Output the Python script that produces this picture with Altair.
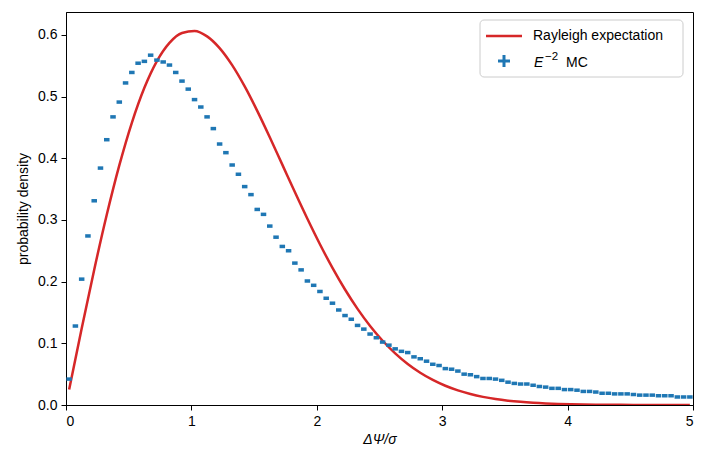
import altair as alt
import pandas as pd

# ---- data ----
bin_half_width = 0.022
bin_centers = [round(0.025 + 0.05 * i, 3) for i in range(100)]
mc_density = [
    0.042, 0.128, 0.204, 0.274, 0.331, 0.384, 0.430, 0.467, 0.491, 0.522,
    0.539, 0.554, 0.557, 0.567, 0.559, 0.556, 0.551, 0.539, 0.525, 0.512,
    0.495, 0.483, 0.467, 0.448, 0.423, 0.409, 0.389, 0.374, 0.354, 0.341,
    0.317, 0.309, 0.290, 0.272, 0.257, 0.250, 0.230, 0.219, 0.201, 0.194,
    0.184, 0.173, 0.165, 0.154, 0.145, 0.139, 0.129, 0.123, 0.115, 0.109,
    0.102, 0.097, 0.091, 0.087, 0.085, 0.078, 0.075, 0.071, 0.066, 0.064,
    0.059, 0.058, 0.055, 0.050, 0.049, 0.046, 0.043, 0.043, 0.042, 0.040,
    0.037, 0.035, 0.034, 0.034, 0.032, 0.030, 0.029, 0.027, 0.027, 0.025,
    0.025, 0.024, 0.022, 0.022, 0.021, 0.019, 0.019, 0.018, 0.018, 0.018,
    0.017, 0.016, 0.016, 0.016, 0.015, 0.015, 0.015, 0.013, 0.013, 0.013,
]

curve_x = [0.025, 0.125, 0.225, 0.325, 0.425, 0.525, 0.625, 0.725, 0.825, 0.925,
           1.025, 1.125, 1.225, 1.325, 1.425, 1.525, 1.625, 1.725, 1.825, 1.925,
           2.025, 2.125, 2.225, 2.325, 2.425, 2.525, 2.625, 2.725, 2.825, 2.925,
           3.025, 3.125, 3.225, 3.325, 3.425, 3.525, 3.625, 3.725, 3.825, 3.925,
           4.025, 4.125, 4.225, 4.325, 4.425, 4.525, 4.625, 4.725, 4.825, 4.925, 4.975]
curve_y = [0.02499, 0.12403, 0.21938, 0.30828, 0.38830, 0.45741, 0.51411, 0.55745, 0.58704, 0.60306,
           0.60619, 0.59749, 0.57847, 0.55082, 0.51629, 0.47672, 0.43396, 0.38963, 0.34518, 0.30186,
           0.26058, 0.22223, 0.18717, 0.15580, 0.12816, 0.10418, 0.08374, 0.06652, 0.05226, 0.04057,
           0.03116, 0.02366, 0.01777, 0.01320, 0.00971, 0.00706, 0.00508, 0.00361, 0.00254, 0.00177,
           0.00122, 0.00083, 0.00056, 0.00037, 0.00025, 0.00016, 0.00010, 0.00007, 0.00004, 0.00003, 0.00002]

x_ticks = [0, 1, 2, 3, 4, 5]
y_ticks = [0.0, 0.1, 0.2, 0.3, 0.4, 0.5, 0.6]

mc = pd.DataFrame({"center": bin_centers, "density": mc_density})
mc["lo"] = mc["center"] - bin_half_width
mc["hi"] = mc["center"] + bin_half_width
curve = pd.DataFrame({"x": curve_x, "y": curve_y})

FONT = "Liberation Sans"
RED = "#d62728"
BLUE = "#1f77b4"

x_scale = alt.Scale(domain=[0, 5], nice=False, zero=False)
y_scale = alt.Scale(domain=[0, 0.637], nice=False)

x_axis = alt.Axis(values=x_ticks, format="d", title="ΔΨ/σ", titleFontStyle="italic",
                  titleFontWeight="normal", titleFontSize=14, labelFontSize=14,
                  titlePadding=4, labelPadding=4, tickSize=5, grid=False,
                  domainColor="black", tickColor="black", labelColor="black", titleColor="black")
y_axis = alt.Axis(values=y_ticks, format=".1f", title="probability density",
                  titleFontWeight="normal", titleFontSize=14, labelFontSize=14,
                  titlePadding=7, labelPadding=4, tickSize=5, grid=False,
                  domainColor="black", tickColor="black", labelColor="black", titleColor="black")

curve_chart = alt.Chart(curve).mark_line(color=RED, strokeWidth=2.5, clip=True,
                                         interpolate="monotone").encode(
    x=alt.X("x:Q", scale=x_scale, axis=x_axis),
    y=alt.Y("y:Q", scale=y_scale, axis=y_axis),
)

mc_chart = alt.Chart(mc).mark_rule(color=BLUE, strokeWidth=3.5, clip=True).encode(
    x=alt.X("lo:Q", scale=x_scale),
    x2="hi:Q",
    y=alt.Y("density:Q", scale=y_scale),
)

one = pd.DataFrame({"k": [0]})
leg_box = alt.Chart(one).mark_rect(fill="white", fillOpacity=0.8, stroke="#cccccc",
                                   strokeWidth=1, cornerRadius=4).encode(
    x=alt.value(414), x2=alt.value(617), y=alt.value(8), y2=alt.value(65))
leg_line = alt.Chart(one).mark_rule(color=RED, strokeWidth=2.5).encode(
    x=alt.value(420), x2=alt.value(456), y=alt.value(24))
leg_text1 = alt.Chart(one).mark_text(align="left", baseline="middle", fontSize=14,
                                     font=FONT, color="black").encode(
    x=alt.value(467), y=alt.value(24), text=alt.value("Rayleigh expectation"))
leg_plus_h = alt.Chart(one).mark_rule(color=BLUE, strokeWidth=3).encode(
    x=alt.value(432), x2=alt.value(444), y=alt.value(49))
leg_plus_v = alt.Chart(one).mark_rule(color=BLUE, strokeWidth=3).encode(
    x=alt.value(438), y=alt.value(43), y2=alt.value(55))
leg_E = alt.Chart(one).mark_text(align="left", baseline="alphabetic", fontSize=14,
                                 font=FONT, fontStyle="italic", color="black").encode(
    x=alt.value(468), y=alt.value(55), text=alt.value("E"))
leg_sup = alt.Chart(one).mark_text(align="left", baseline="alphabetic", fontSize=11.5,
                                   font=FONT, color="black").encode(
    x=alt.value(479), y=alt.value(48), text=alt.value("−2"))
leg_MC = alt.Chart(one).mark_text(align="left", baseline="alphabetic", fontSize=14,
                                  font=FONT, color="black").encode(
    x=alt.value(500), y=alt.value(55), text=alt.value("MC"))

chart = alt.layer(
    curve_chart, mc_chart, leg_box, leg_line, leg_text1, leg_plus_h, leg_plus_v,
    leg_E, leg_sup, leg_MC
).properties(
    width=627, height=393,
    autosize=alt.AutoSizeParams(type="none"),
    padding={"left": 58, "top": 4, "right": 6, "bottom": 50},
).configure(
    font=FONT, background="white"
).configure_view(
    stroke="black", strokeWidth=1
)

chart.save("out.html", embed_options={"renderer": "svg", "actions": False})
